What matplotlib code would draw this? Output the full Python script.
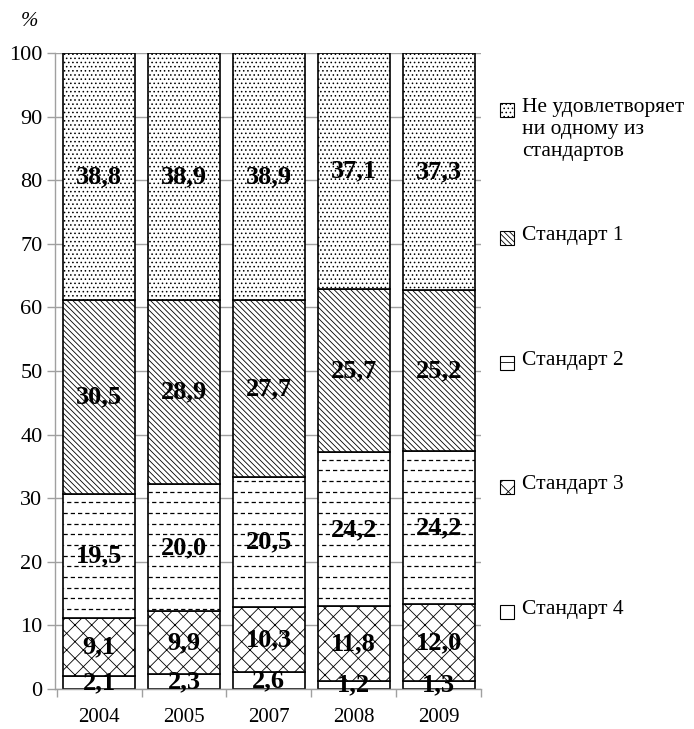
import numpy as np
import matplotlib
matplotlib.use('Agg')
import matplotlib.pyplot as plt
from matplotlib.patches import Rectangle

plt.rcParams['font.family'] = ['Liberation Serif', 'DejaVu Serif']
plt.rcParams['hatch.linewidth'] = 0.6

# Data
years = ['2004', '2005', '2007', '2008', '2009']
std4 = [2.1, 2.3, 2.6, 1.2, 1.3]
std3 = [9.1, 9.9, 10.3, 11.8, 12.0]
std2 = [19.5, 20.0, 20.5, 24.2, 24.2]
std1 = [30.5, 28.9, 27.7, 25.7, 25.2]
none_std = [38.8, 38.9, 38.9, 37.1, 37.3]

series = [std4, std3, std2, std1, none_std]
labels = ['Стандарт 4', 'Стандарт 3', 'Стандарт 2', 'Стандарт 1',
          'Не удовлетворяет\nни одному из\nстандартов']
hatches = ['', 'xx', None, '\\' * 6, '....']

fig = plt.figure(figsize=(6.94, 7.29), dpi=100)
ax = fig.add_axes([55 / 694, 40 / 729, 426 / 694, 636 / 729])

x = np.arange(len(years))
width = 0.85
bottom = np.zeros(len(years))
grey = '#a0a0a0'

for vals, lab, h in zip(series, labels, hatches):
    vals = np.array(vals)
    bars = ax.bar(x, vals, width, bottom=bottom, color='white', edgecolor='black',
                  linewidth=1.2, hatch=h if h else None, zorder=2)
    if h is None:
        # dashed horizontal fill pattern
        rows = np.arange(0.8, 100, 1.68)
        for i, b in enumerate(bars):
            for k, yy in enumerate(rows):
                ln = ax.hlines(yy, x[i] - width / 2, x[i] + width / 2, colors='black',
                               linewidth=0.9, linestyles=[((k % 2) * 2.9, (3.4, 2.4))],
                               zorder=2.5)
                ln.set_clip_path(b)
    for xi, v, b0 in zip(x, vals, bottom):
        ax.text(xi, b0 + v / 2, f'{v:.1f}'.replace('.', ','), ha='center', va='center',
                fontsize=19, fontweight='bold', zorder=4)
    bottom += vals

ax.set_ylim(0, 100)
ax.set_xlim(-0.52, 4.5)
ax.set_yticks(np.arange(0, 101, 10))
ax.yaxis.grid(True, color=grey, linewidth=1, zorder=0)
ax.set_axisbelow(True)
ax.set_xticks(x)
ax.set_xticklabels(years)
ax.set_xticks(np.arange(-0.5, 5, 1), minor=True)
ax.tick_params(axis='x', which='major', length=0, labelsize=15, pad=14)
ax.tick_params(axis='x', which='minor', length=6, color=grey, width=1)
ax.tick_params(axis='y', length=6, color=grey, width=1, labelsize=16, pad=3)
for s in ['top', 'right']:
    ax.spines[s].set_visible(False)
for s in ['left', 'bottom']:
    ax.spines[s].set_color(grey)
    ax.spines[s].set_linewidth(1)

fig.text(29 / 694, 1 - 21 / 729, '%', fontsize=15, style='italic', ha='center', va='center')

# Legend drawn by hand on the right
leg_y = [612, 487, 363, 238, 110]
W, H = 694, 729
for lab, h, yy in zip(labels, hatches, leg_y):
    rect = Rectangle((500 / W, 1 - (yy + 7) / H), 14 / W, 14 / H, transform=fig.transFigure,
                     facecolor='white', edgecolor='black', linewidth=0.8,
                     hatch=h if h is not None else '--')
    fig.patches.append(rect)
    fig.text(522 / W, 1 - (yy - 12) / H, lab, fontsize=15.5, ha='left', va='top',
             linespacing=1.2)

plt.savefig('out.png', dpi=100)
